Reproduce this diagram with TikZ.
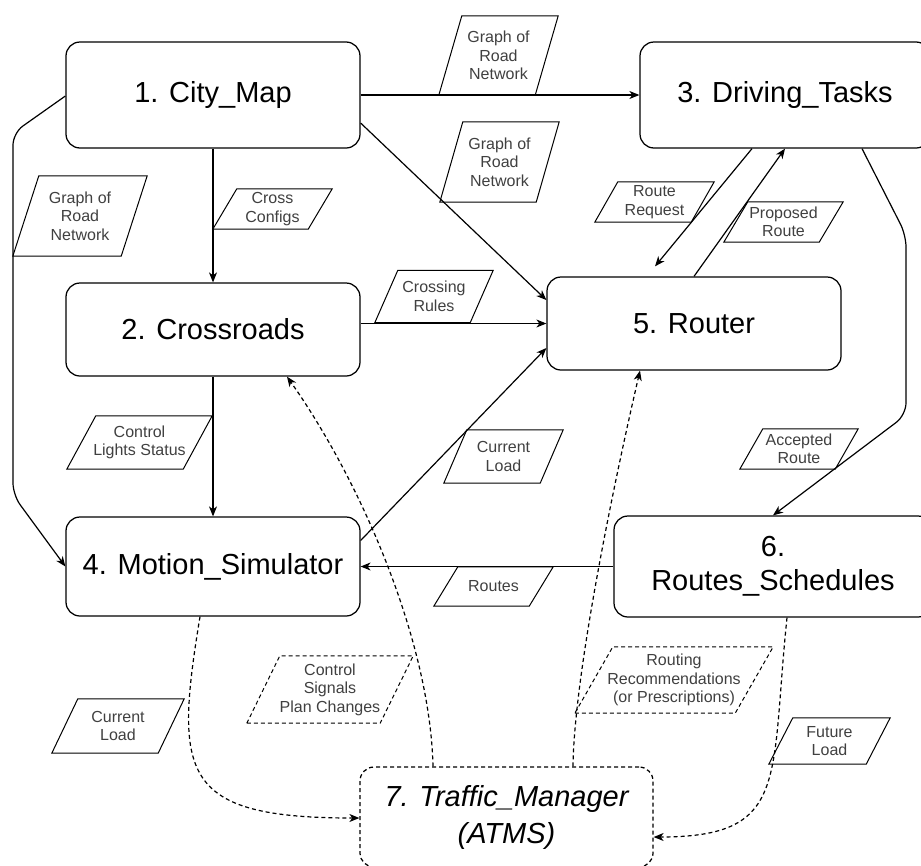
\documentclass[tikz,border=0pt]{standalone}
\usepackage{fontspec}
\setmainfont{Liberation Sans}
\usetikzlibrary{arrows.meta,calc}

\begin{document}
\begin{tikzpicture}[x=1pt,y=-1pt]

    \tikzset{
      module/.style={
        draw,
        line width=1.25pt,
        rounded corners=14pt,
        inner sep=0pt,
        align=center,
        font=\fontsize{29}{34}\selectfont,
      },
      tag/.style={
        inner sep=0pt,
        align=center,
        text=black!75,
        font=\fontsize{16}{18.5}\selectfont,
      },
      plain/.style={line width=1.25pt},
      thin tag/.style={line width=1pt},
      hint/.style={line width=1.2pt, dash pattern=on 4pt off 3pt},
      flow/.style={line width=1.2pt, -{Stealth[length=10pt,width=8pt,inset=3pt]}},
    }
    \useasboundingbox (0,0) rectangle (921,865);
    \clip (0,0) rectangle (921,865);

    % modules
    \node[module, minimum width=294pt, minimum height=106pt] (citymap) at (213,95) {1. City\_Map};
    \node[module, minimum width=290pt, minimum height=106pt] (driving) at (785,95) {3. Driving\_Tasks};
    \node[module, minimum width=294pt, minimum height=93pt] (crossroads) at (213,329.5) {2. Crossroads};
    \node[module, minimum width=294pt, minimum height=93pt] (router) at (694,323.5) {5. Router};
    \node[module, minimum width=294pt, minimum height=99pt] (motionsim) at (213,566.5) {4. Motion\_Simulator};
    \node[module, minimum width=318pt, minimum height=101pt] (schedules) at (773,566.5) {6.\\Routes\_Schedules};
    \node[module, dash pattern=on 4pt off 3pt, minimum width=293pt, minimum height=100pt,
      font=\fontsize{29}{37}\selectfont\itshape] (manager) at (506.5,817) {7. Traffic\_Manager\\(ATMS)};

    % solid connectors
    \draw[flow] (citymap) -- (driving);
    \draw[flow] (citymap) -- (crossroads);
    \draw[flow] ($(citymap.east)+(0,28)$) -- ($(router.west)+(0,-23.5)$);
    \draw[flow, rounded corners=12pt] ($(citymap.west)+(0,1)$) -- (13,133) -- (13,495) -- (motionsim.west);
    \draw[flow] (crossroads) -- (motionsim);
    \draw[flow] (crossroads.east |- router.west) -- (router.west);
    \draw[flow] ($(motionsim.east)+(0,-26)$) -- ($(router.west)+(0,24.5)$);
    \draw[flow] ($(driving.south)+(-33,0)$) -- ($(router.north)+(-39,-10)$);
    \draw[flow] (router.north) -- (driving.south);
    \draw[flow, rounded corners=12pt] ($(driving.south)+(77,0)$) -- (906,235) -- (906,415) -- (schedules.north);
    \draw[flow] (schedules.west) -- (motionsim.east);

    % dashed connectors
    \draw[flow, hint] ($(motionsim.south)+(-13,0)$) .. controls (174,775) and (180,818) .. ($(manager.west)+(0,1)$);
    \draw[flow, hint] ($(manager.north)+(-73.5,0)$) .. controls (430,640) and (360,480) .. ($(crossroads.south)+(74,0)$);
    \draw[flow, hint] ($(manager.north)+(66.5,0)$) .. controls (574,680) and (610,500) .. ($(router.south)+(-54,0)$);
    \draw[flow, hint] ($(schedules.south)+(14,0)$) .. controls (770,780) and (790,837) .. ($(manager.east)+(0,20)$);

    % data tags
    \node[tag, minimum width=119pt, minimum height=79pt] (tgrA) at (498.5,55.5) {Graph of\\Road\\Network};
    \node[tag, minimum width=119pt, minimum height=80pt] (tgrB) at (499.5,162) {Graph of\\Road\\Network};
    \node[tag, minimum width=134pt, minimum height=80pt] (tgrC) at (80,216) {Graph of\\Road\\Network};
    \node[tag, minimum width=119pt, minimum height=40pt] (tcfg) at (272.5,209) {Cross\\Configs};
    \node[tag, minimum width=118pt, minimum height=52pt] (trul) at (434,296.5) {Crossing\\Rules};
    \node[tag, minimum width=119pt, minimum height=40pt] (treq) at (654.5,202) {Route\\Request};
    \node[tag, minimum width=119pt, minimum height=40pt] (tprop) at (783.5,222) {Proposed\\Route};
    \node[tag, minimum width=145pt, minimum height=53pt] (tlight) at (139.5,442.5) {Control\\Lights Status};
    \node[tag, minimum width=119pt, minimum height=53pt] (tloadA) at (503.5,456.5) {Current\\Load};
    \node[tag, minimum width=118pt, minimum height=40pt] (tacc) at (799,449) {Accepted\\Route};
    \node[tag, minimum width=119pt, minimum height=39pt] (troutes) at (493.5,586.5) {Routes};
    \node[tag, minimum width=132pt, minimum height=54pt] (tloadB) at (118,726) {Current\\Load};
    \node[tag, minimum width=121pt, minimum height=46pt] (tfut) at (829.5,741) {Future\\Load};
    \node[tag, minimum width=166pt, minimum height=67pt] (tsig) at (330,689.5) {Control\\Signals\\Plan Changes};
    \node[tag, minimum width=198pt, minimum height=66pt] (trec) at (674,680) {Routing\\Recommendations\\(or Prescriptions)};

    \foreach \t/\s in {tgrA/23, tgrB/23, tgrC/26, tcfg/24, trul/23, treq/23, tprop/24, tlight/29,
        tloadA/23, tacc/23, troutes/24, tloadB/26, tfut/24}
      \draw[thin tag] (\t.south west) -- ($(\t.south east)+(-\s,0)$) -- (\t.north east) -- ($(\t.north west)+(\s,0)$) -- cycle;
    \foreach \t/\s in {tsig/33, trec/38}
      \draw[thin tag, dash pattern=on 4pt off 3pt] (\t.south west) -- ($(\t.south east)+(-\s,0)$) -- (\t.north east) -- ($(\t.north west)+(\s,0)$) -- cycle;

\end{tikzpicture}
\end{document}
